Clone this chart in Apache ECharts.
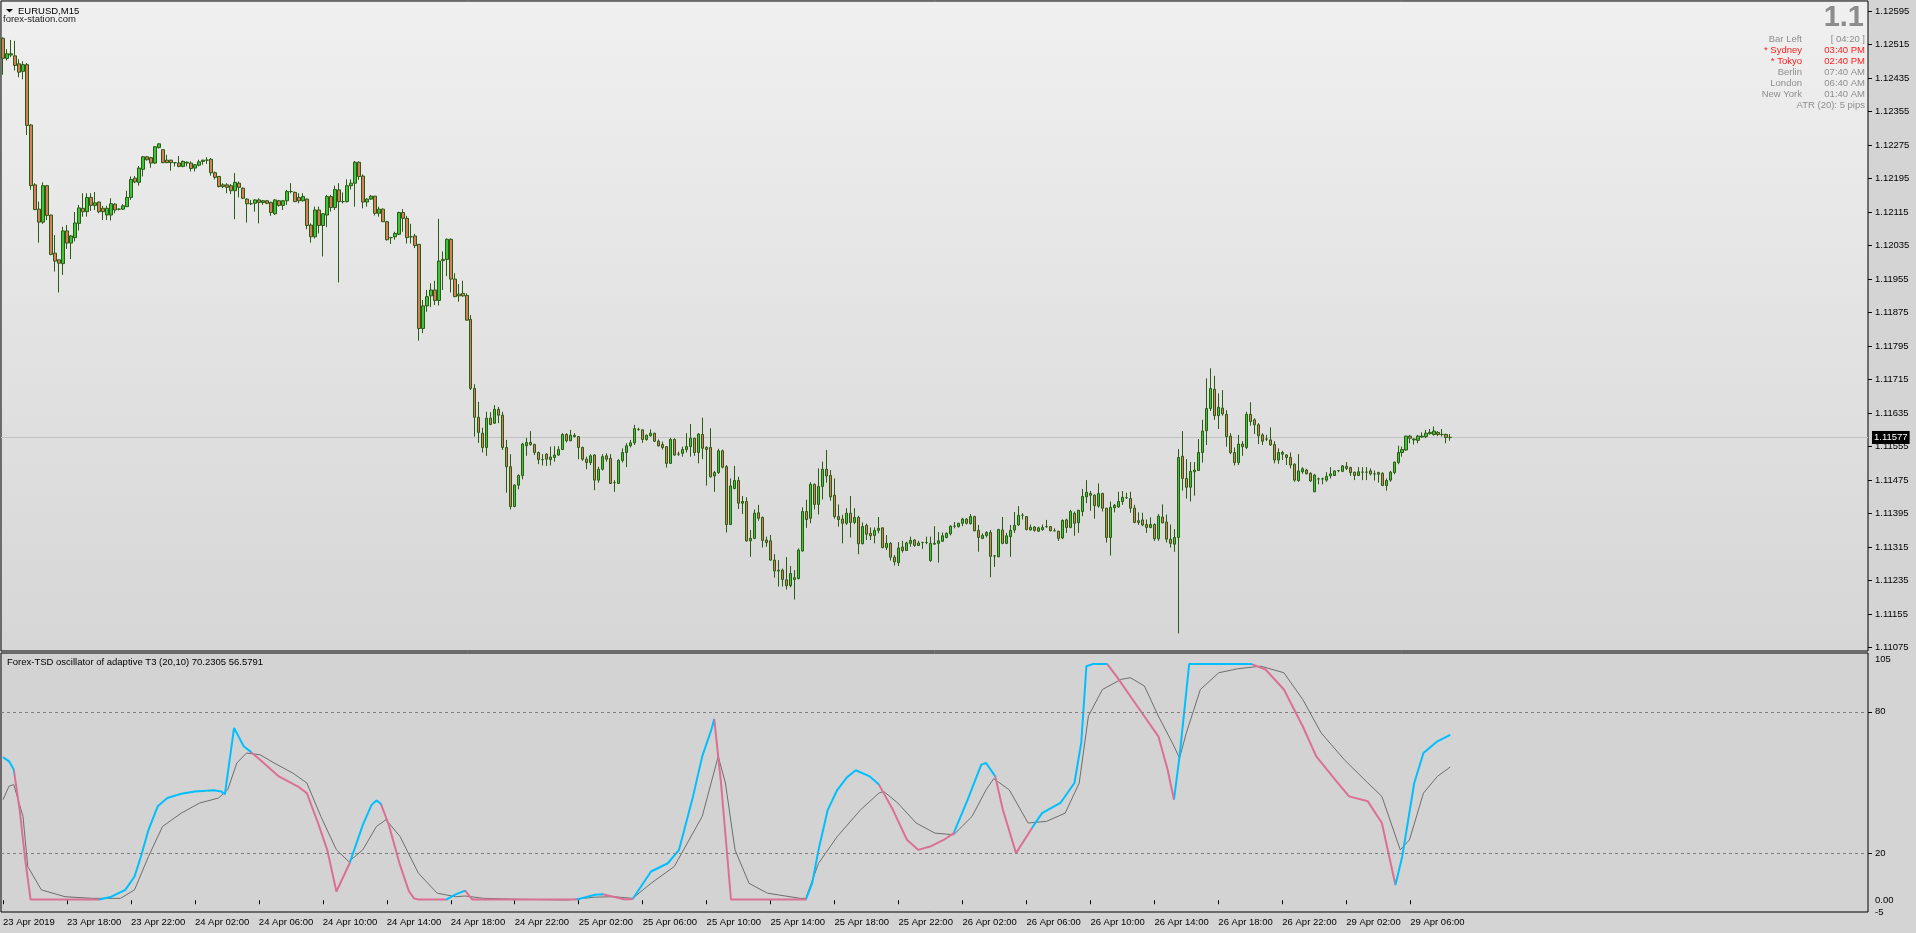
<!DOCTYPE html>
<html><head><meta charset="utf-8">
<script src="https://cdn.jsdelivr.net/npm/echarts@6/dist/echarts.min.js"></script>
<style>html,body{margin:0;padding:0;background:#d4d4d4;overflow:hidden}#c{width:1916px;height:933px}</style>
</head><body><div id="c"></div>
<script>
// ---------------- DATA ----------------
const symbolTitle = 'EURUSD,M15';
const siteTitle = 'forex-station.com';
const oscTitle = 'Forex-TSD oscillator of adaptive T3 (20,10) 70.2305 56.5791';
const lastPrice = 1.11577;

const open = [
1.1253,1.12482,1.1249,1.12488,1.12469,1.12451,1.12467,1.12323,1.1218,1.12122,
1.12091,1.12178,1.12108,1.12017,1.12001,1.11992,1.1207,1.12041,1.12054,1.12088,
1.12124,1.12116,1.1215,1.12131,1.12139,1.12124,1.12108,1.12108,1.12134,1.12122,
1.12122,1.12128,1.1215,1.12196,1.12186,1.12217,1.12247,1.12245,1.12232,1.12269,
1.12264,1.12239,1.12239,1.12233,1.12232,1.12224,1.12234,1.12232,1.1222,1.12227,
1.12236,1.12239,1.12241,1.12209,1.122,1.1218,1.1218,1.12178,1.12166,1.12184,
1.12172,1.12146,1.12135,1.12136,1.12144,1.12138,1.12142,1.12138,1.12111,1.12142,
1.12131,1.12142,1.12164,1.12162,1.1215,1.12142,1.12146,1.12084,1.12056,1.1212,
1.12083,1.12108,1.12152,1.12126,1.12168,1.1214,1.1214,1.12178,1.12184,1.12234,
1.12201,1.12139,1.12146,1.12153,1.12112,1.12122,1.12092,1.12054,1.12056,1.12062,
1.12114,1.121,1.12056,1.12058,1.12038,1.11837,1.11891,1.11915,1.11929,1.11904,
1.11999,1.12002,1.1205,1.11955,1.11919,1.11921,1.11916,1.11859,1.11694,1.11625,
1.11587,1.11553,1.11623,1.11611,1.11644,1.1163,1.11553,1.11507,1.11412,1.11463,
1.11486,1.11557,1.11565,1.1156,1.11541,1.11524,1.11537,1.11524,1.11529,1.11535,
1.11548,1.11584,1.11569,1.11579,1.11579,1.11553,1.11525,1.11517,1.11535,1.11475,
1.11501,1.11533,1.11527,1.11469,1.11467,1.11522,1.11541,1.11557,1.11564,1.11596,
1.11595,1.11572,1.11581,1.11587,1.11568,1.1156,1.11555,1.11515,1.11572,1.11537,
1.11539,1.11548,1.11555,1.11575,1.11541,1.11584,1.11553,1.11553,1.11485,1.11493,
1.11545,1.11507,1.11369,1.11455,1.11474,1.1142,1.11424,1.1133,1.11336,1.11397,
1.11386,1.11332,1.1133,1.11284,1.1126,1.1126,1.11237,1.11223,1.11238,1.1124,
1.11306,1.114,1.11384,1.11465,1.11417,1.1146,1.11501,1.11486,1.11439,1.11388,
1.11382,1.11372,1.11396,1.11374,1.11386,1.11323,1.11367,1.11348,1.11343,1.11355,
1.11361,1.11314,1.11324,1.11291,1.11278,1.11315,1.11307,1.11324,1.11332,1.11319,
1.11326,1.11326,1.11283,1.11322,1.11324,1.11329,1.11338,1.11347,1.11365,1.11364,
1.11372,1.11382,1.11371,1.11388,1.11355,1.11336,1.11343,1.1135,1.11294,1.11292,
1.11356,1.11324,1.1134,1.11356,1.11368,1.11391,1.11388,1.11356,1.11363,1.11353,
1.11357,1.11364,1.11364,1.11354,1.11353,1.11337,1.1138,1.11362,1.11396,1.11373,
1.114,1.11435,1.11443,1.11439,1.11413,1.11443,1.11408,1.11338,1.11409,1.11411,
1.11424,1.11433,1.11431,1.11408,1.11378,1.1138,1.11369,1.11362,1.11369,1.11335,
1.11387,1.11375,1.11334,1.11322,1.11338,1.11532,1.11479,1.11458,1.11495,1.11498,
1.11541,1.11593,1.11646,1.11692,1.11629,1.11647,1.11632,1.1158,1.11541,1.11517,
1.11561,1.11553,1.11632,1.11619,1.11607,1.11583,1.11573,1.11571,1.1156,1.11523,
1.11537,1.11535,1.11529,1.11513,1.11474,1.11495,1.11499,1.11491,1.11447,1.11478,
1.11478,1.11475,1.11485,1.11486,1.11498,1.11496,1.11508,1.11505,1.11494,1.11486,
1.11494,1.11494,1.11497,1.1149,1.11493,1.11491,1.11462,1.11475,1.11493,1.11517,
1.11541,1.11547,1.1158,1.11573,1.1157,1.11578,1.11579,1.11586,1.11584,1.11589,
1.11584,1.11584,1.11577];

const high = [
1.12532,1.12504,1.12526,1.12524,1.1248,1.12475,1.12471,1.12325,1.12184,1.1214,
1.12186,1.1218,1.12108,1.1206,1.12001,1.1208,1.12084,1.1206,1.12115,1.12132,
1.1216,1.1216,1.1216,1.12163,1.1214,1.1213,1.1213,1.12148,1.12136,1.12124,
1.12134,1.12166,1.122,1.12201,1.12225,1.12249,1.12249,1.12247,1.12273,1.12279,
1.12265,1.12252,1.1224,1.12234,1.12249,1.12238,1.12236,1.12236,1.1223,1.1224,
1.1224,1.12246,1.12244,1.12212,1.12201,1.12184,1.12184,1.12182,1.12208,1.12188,
1.12174,1.12148,1.12144,1.12146,1.12148,1.12144,1.12144,1.1214,1.12146,1.12144,
1.12144,1.12168,1.12184,1.12164,1.1216,1.1216,1.12147,1.12088,1.12128,1.12128,
1.12112,1.12156,1.12156,1.12178,1.12184,1.12162,1.12193,1.12193,1.12237,1.12236,
1.12205,1.12148,1.12156,1.12154,1.12128,1.12124,1.12094,1.12056,1.12068,1.12116,
1.12122,1.12106,1.12087,1.12063,1.12038,1.11905,1.11929,1.11945,1.11951,1.12099,
1.12021,1.12052,1.12052,1.11969,1.11943,1.11951,1.11921,1.11869,1.11704,1.11662,
1.116,1.11638,1.11637,1.11654,1.1165,1.11638,1.11571,1.11537,1.11465,1.11489,
1.11564,1.11576,1.11592,1.11562,1.11543,1.11537,1.11539,1.11555,1.11556,1.11556,
1.11587,1.11587,1.11595,1.11587,1.1158,1.11555,1.11531,1.11537,1.11537,1.11507,
1.11537,1.11539,1.11537,1.11475,1.11525,1.11551,1.11563,1.11571,1.11607,1.116,
1.11596,1.11584,1.11596,1.11588,1.11572,1.11567,1.11556,1.11576,1.11575,1.11543,
1.11555,1.11587,1.11609,1.11576,1.11587,1.11624,1.11556,1.11599,1.11497,1.1155,
1.11548,1.11511,1.11479,1.11509,1.11483,1.11437,1.11434,1.11356,1.11405,1.11416,
1.11388,1.1134,1.11344,1.11298,1.11284,1.11264,1.11291,1.1127,1.1126,1.11312,
1.1141,1.11428,1.1147,1.11467,1.11503,1.11519,1.11547,1.11499,1.11479,1.11417,
1.11392,1.11408,1.11437,1.11408,1.1139,1.11374,1.11371,1.11362,1.11362,1.11387,
1.11362,1.11344,1.11327,1.11296,1.11327,1.1133,1.11328,1.1134,1.11334,1.1133,
1.11328,1.1134,1.1134,1.11365,1.11351,1.1135,1.1135,1.11367,1.11375,1.11373,
1.11385,1.11384,1.11394,1.1139,1.11368,1.11348,1.11353,1.11356,1.11296,1.11359,
1.11387,1.11349,1.11368,1.11399,1.11413,1.11396,1.11389,1.11369,1.11365,1.11364,
1.11369,1.1138,1.11365,1.1136,1.11354,1.11381,1.11383,1.11404,1.114,1.11404,
1.11454,1.11475,1.11449,1.11441,1.11467,1.11445,1.11409,1.11424,1.11418,1.11447,
1.11449,1.11445,1.11447,1.11416,1.11398,1.11397,1.11381,1.11386,1.11372,1.11394,
1.11417,1.11393,1.11369,1.11358,1.11549,1.11592,1.11525,1.11518,1.11518,1.11573,
1.11619,1.11718,1.11742,1.11724,1.11682,1.1169,1.11642,1.11587,1.11553,1.11583,
1.11568,1.11638,1.11661,1.11623,1.11611,1.11587,1.11583,1.11601,1.11568,1.11551,
1.11545,1.11537,1.11541,1.11515,1.11537,1.11506,1.11502,1.11494,1.1149,1.11481,
1.11481,1.11494,1.11506,1.11498,1.11499,1.11511,1.11518,1.11507,1.11495,1.11506,
1.11506,1.11506,1.11503,1.11498,1.11495,1.11494,1.11479,1.11497,1.11519,1.11557,
1.11555,1.11581,1.11583,1.11575,1.11583,1.11589,1.11595,1.11597,1.11603,1.11592,
1.11597,1.11586,1.11585];

const low = [
1.12443,1.12477,1.12485,1.12453,1.12437,1.12432,1.12299,1.12168,1.1212,1.12042,
1.12087,1.12096,1.12012,1.11973,1.11923,1.11965,1.12027,1.12003,1.12045,1.12071,
1.12104,1.12104,1.12118,1.1212,1.12112,1.12096,1.12096,1.12095,1.12112,1.12119,
1.1212,1.12127,1.12144,1.12184,1.12178,1.122,1.12238,1.12221,1.1223,1.12267,
1.12232,1.12232,1.12214,1.12224,1.12222,1.12222,1.12224,1.12212,1.12212,1.12224,
1.12228,1.1223,1.12202,1.12193,1.12174,1.12172,1.1216,1.12158,1.12098,1.1215,
1.12146,1.1209,1.12132,1.12116,1.12088,1.12132,1.12134,1.12106,1.12108,1.12128,
1.1212,1.12132,1.1216,1.12139,1.12136,1.1214,1.12074,1.12042,1.12052,1.12064,
1.12009,1.12079,1.12116,1.1212,1.11947,1.12136,1.12138,1.12169,1.12128,1.12192,
1.12124,1.12128,1.12144,1.12107,1.12104,1.12091,1.12047,1.12039,1.12049,1.1206,
1.12068,1.1204,1.1204,1.12029,1.11808,1.11826,1.11877,1.11888,1.11893,1.11892,
1.11929,1.11962,1.11923,1.11912,1.11901,1.11913,1.11856,1.1169,1.11579,1.11564,
1.11541,1.11533,1.11606,1.11609,1.11611,1.11547,1.11445,1.11405,1.1141,1.11453,
1.11477,1.11533,1.11557,1.11535,1.11513,1.1151,1.11509,1.1151,1.11519,1.11533,
1.11547,1.11565,1.11568,1.11577,1.11525,1.11521,1.11501,1.11511,1.11451,1.11469,
1.11498,1.11519,1.11466,1.11447,1.11466,1.11517,1.11506,1.11553,1.11559,1.11593,
1.11564,1.11569,1.11579,1.11566,1.11555,1.11548,1.11505,1.11514,1.11533,1.11533,
1.11531,1.11541,1.11531,1.11533,1.11515,1.11525,1.11462,1.11481,1.11447,1.1149,
1.11503,1.1135,1.11368,1.11453,1.11406,1.11394,1.11328,1.11292,1.11334,1.11378,
1.11314,1.11316,1.11283,1.11242,1.11221,1.11221,1.11214,1.11219,1.1119,1.11238,
1.11304,1.11361,1.11372,1.11405,1.11393,1.11429,1.11469,1.11426,1.11383,1.11364,
1.11324,1.11368,1.11338,1.1137,1.11298,1.11322,1.11332,1.11332,1.11324,1.11348,
1.11312,1.11308,1.11283,1.11271,1.1127,1.11302,1.11306,1.11316,1.11316,1.11318,
1.11311,1.11322,1.1128,1.11321,1.11278,1.11328,1.11336,1.11343,1.1136,1.11362,
1.11365,1.11369,1.11369,1.11353,1.11304,1.11334,1.11338,1.11243,1.11268,1.11291,
1.11322,1.11322,1.11292,1.11349,1.11366,1.11381,1.11355,1.11355,1.11352,1.11352,
1.11354,1.11361,1.11353,1.11353,1.1133,1.11334,1.11349,1.1136,1.11342,1.11349,
1.11389,1.1142,1.11402,1.11383,1.11409,1.114,1.11326,1.11295,1.11398,1.11409,
1.11416,1.1143,1.11397,1.11372,1.11368,1.11365,1.11349,1.1136,1.1133,1.1133,
1.11372,1.11326,1.11314,1.11304,1.11109,1.1145,1.11431,1.11424,1.11438,1.11497,
1.11517,1.11559,1.1164,1.11619,1.11597,1.11629,1.11555,1.11537,1.1151,1.11511,
1.11533,1.11549,1.11605,1.11585,1.11561,1.11559,1.11568,1.11557,1.11515,1.11514,
1.11523,1.11511,1.11503,1.11471,1.11471,1.1149,1.11489,1.11471,1.11447,1.11465,
1.11465,1.11471,1.11479,1.11485,1.11494,1.11494,1.11499,1.11485,1.11475,1.11485,
1.11475,1.11475,1.11486,1.11474,1.11469,1.11461,1.1145,1.11471,1.11489,1.11513,
1.11531,1.11545,1.11563,1.1156,1.11563,1.11576,1.11575,1.11584,1.11581,1.1158,
1.11579,1.11563,1.11569];

const close = [
1.12482,1.12493,1.12493,1.12465,1.12449,1.12467,1.12322,1.12178,1.12121,1.12091,
1.12178,1.12107,1.12014,1.11998,1.11993,1.1207,1.12041,1.12058,1.12089,1.12125,
1.12116,1.1215,1.12131,1.12137,1.12116,1.12116,1.12124,1.12135,1.1212,1.12122,
1.1213,1.1215,1.12193,1.12187,1.1222,1.12247,1.1224,1.12232,1.12271,1.12278,
1.12233,1.12233,1.12233,1.12233,1.12224,1.12236,1.12232,1.12219,1.12228,1.12235,
1.12239,1.12239,1.12209,1.12198,1.12176,1.12176,1.12174,1.12166,1.12186,1.12174,
1.12148,1.12135,1.12135,1.12144,1.12138,1.12142,1.12136,1.12114,1.12144,1.12131,
1.12142,1.12164,1.12164,1.1214,1.12142,1.12152,1.12083,1.12056,1.1212,1.12083,
1.12111,1.12152,1.12126,1.12169,1.1214,1.1214,1.12178,1.12184,1.12234,1.122,
1.12139,1.12146,1.12153,1.12112,1.12122,1.12092,1.12049,1.12054,1.12064,1.12114,
1.121,1.12054,1.12056,1.12035,1.11837,1.11891,1.11913,1.11929,1.11904,1.11998,
1.12002,1.1205,1.11955,1.11913,1.11915,1.11915,1.11857,1.11694,1.11625,1.11589,
1.11553,1.11623,1.11608,1.11644,1.1163,1.11553,1.11507,1.11412,1.11463,1.11486,
1.11561,1.11565,1.1156,1.11541,1.11524,1.11524,1.11525,1.1153,1.11535,1.11548,
1.11584,1.11569,1.11582,1.11582,1.11553,1.11525,1.11517,1.11533,1.11475,1.11501,
1.11531,1.11525,1.11467,1.11469,1.11522,1.11541,1.11557,1.11564,1.11598,1.11596,
1.11572,1.11582,1.11587,1.11568,1.11557,1.11553,1.11515,1.11572,1.11535,1.11537,
1.11548,1.11555,1.11575,1.11541,1.11585,1.11551,1.11548,1.11483,1.11493,1.11545,
1.11506,1.11369,1.11461,1.11474,1.1142,1.11424,1.1133,1.11336,1.11396,1.11384,
1.11331,1.11326,1.11284,1.11258,1.11258,1.11238,1.11223,1.11252,1.11242,1.11308,
1.114,1.11381,1.11465,1.11417,1.1146,1.11501,1.11485,1.11435,1.11388,1.11381,
1.11372,1.11396,1.11374,1.11386,1.11323,1.11364,1.11346,1.11342,1.11355,1.1136,
1.11314,1.11324,1.11291,1.1128,1.11313,1.11307,1.11325,1.11331,1.11319,1.11325,
1.11326,1.11326,1.11324,1.11324,1.1133,1.11342,1.11348,1.11365,1.11365,1.11372,
1.11382,1.11372,1.11388,1.11354,1.11338,1.11343,1.1135,1.11293,1.11294,1.11357,
1.11324,1.11342,1.11355,1.11367,1.11391,1.11391,1.11357,1.11362,1.11355,1.11361,
1.11362,1.11364,1.11354,1.11354,1.11336,1.11379,1.11362,1.114,1.11372,1.11403,
1.11436,1.11446,1.11439,1.11414,1.11443,1.11408,1.11338,1.1141,1.11415,1.11424,
1.11434,1.11433,1.11408,1.11374,1.11374,1.11368,1.11362,1.11369,1.11335,1.11389,
1.11373,1.11334,1.11324,1.11338,1.11529,1.11479,1.11458,1.11496,1.11499,1.11541,
1.11592,1.11646,1.11694,1.11629,1.11649,1.11633,1.11579,1.11541,1.11517,1.11561,
1.11555,1.11632,1.11615,1.11607,1.11581,1.11568,1.11573,1.11559,1.11523,1.11541,
1.11541,1.11529,1.11511,1.11475,1.11497,1.11502,1.1149,1.11473,1.11487,1.11478,
1.11478,1.11484,1.1149,1.11497,1.11498,1.11509,1.11503,1.11493,1.11486,1.11495,
1.11494,1.11494,1.1149,1.1149,1.11489,1.11462,1.11474,1.11494,1.11518,1.11541,
1.11548,1.1158,1.11575,1.11571,1.1158,1.1158,1.11587,1.11589,1.11592,1.11584,
1.11584,1.11577,1.11577];

const priceTicks = [1.11075,1.11155,1.11235,1.11315,1.11395,1.11475,1.11555,1.11635,1.11715,1.11795,
  1.11875,1.11955,1.12035,1.12115,1.12195,1.12275,1.12355,1.12435,1.12515,1.12595];

const timeLabels = ['23 Apr 2019','23 Apr 18:00','23 Apr 22:00','24 Apr 02:00','24 Apr 06:00','24 Apr 10:00',
  '24 Apr 14:00','24 Apr 18:00','24 Apr 22:00','25 Apr 02:00','25 Apr 06:00','25 Apr 10:00','25 Apr 14:00',
  '25 Apr 18:00','25 Apr 22:00','26 Apr 02:00','26 Apr 06:00','26 Apr 10:00','26 Apr 14:00','26 Apr 18:00',
  '26 Apr 22:00','29 Apr 02:00','29 Apr 06:00'];

// oscillator main line (bar position, value, 1 = falling/pink segment)
const oscBar = [0,1.5,2.7,4.2,5.5,6.9,24.1,27.1,30.6,32.9,34.5,36.4,38.7,41.1,44.6,48,52.7,54.6,55.5,57.8,
  60.2,62,64.3,69,73.7,76,78.8,81.1,83.4,86.7,90,92.2,93.4,94.5,96.5,99.3,101.5,102.8,103.9,110.9,
  113.2,115.6,117.4,143.5,148.1,150,155.6,157.5,162.1,166.3,169.1,172.6,174.9,177.2,177.9,179.6,182.1,200.8,
  202.4,204,206.3,208.7,211,213.3,216.8,219.1,222.6,226.1,228.9,231.9,235.4,237.8,241.3,244.7,245.9,248.2,
  250.1,253.4,256.4,257.5,259.9,264.5,268,269.7,271,272.7,276.2,278.5,284.3,289,291.3,292.9,294.3,296.7,
  312.3,315.8,320.4,325.1,328.5,333.2,336.7,341.4,344.9,348.3,350,353,355.3,358.8,362];
const oscMain = [60.8,59.0,55.5,38.0,18.0,0.3,0.3,1.5,4.4,10.1,18.6,29.9,39.9,43.4,45.2,46.2,46.7,46.2,45.0,73.2,
  65.4,63.0,59.7,52.6,48.4,45.5,32.8,21.4,3.7,15.7,32.0,40.5,42.4,41.0,32.0,15.0,4.0,0.8,0.3,0.3,
  2.5,4.1,0.3,0.3,2.3,2.5,0.3,0.5,12.2,15.7,21.4,44.1,61.1,72.5,77.0,49.8,0.3,0.3,
  7.2,21.4,38.4,46.9,52.0,55.2,52.6,49.1,38.4,25.7,21.4,22.8,25.7,28.5,42.7,57.6,58.3,52.6,
  38.4,20.0,28.0,31.0,37.0,41.3,49.8,66.8,99.4,100.3,100.3,95.2,81.0,69.6,55.5,42.7,61.1,100.3,
  100.3,98.0,89.5,73.9,61.1,51.2,44.1,42.0,32.8,6.5,18.6,49.8,62.5,67.5,70.2305];
const oscPink = [0,0,0,1,1,1,1,0,0,0,0,0,0,0,0,0,0,0,0,0,
  0,0,1,1,1,1,1,1,1,1,0,0,0,0,1,1,1,1,1,1,
  0,0,1,1,0,0,1,1,0,0,0,0,0,0,0,1,1,1,
  0,0,0,0,0,0,0,0,1,1,1,1,1,1,0,0,0,0,
  1,1,1,1,0,0,0,0,0,0,0,1,1,1,1,1,0,0,
  0,1,1,1,1,1,1,1,1,1,0,0,0,0,0];

// oscillator signal line
const sigBar = [0,1.5,2.7,5,6.2,9.6,15.5,22.4,29.4,32.9,36.4,39.9,44.6,49.2,53.9,56.2,58.5,60.9,64.3,67.8,
  72.5,76,79.5,83.4,86.5,90,93.4,95.8,99.3,103.9,108.6,113.2,115.6,120.2,129.5,141.2,148.1,152.8,157.5,162.1,
  167.9,174.9,178.9,180.7,183.1,186.6,191.2,199.4,200.8,204,208.7,214.5,219.1,220.3,223.8,228.4,233.1,237.8,242.4,245.9,
  247.8,251.7,256.4,261,265.7,269.2,271.5,275,279.7,282,285.5,289,292.5,294.3,296,299.5,304.1,308.8,314.6,320.4,
  325.1,329.7,335.5,341.4,344.9,349.5,351.8,355.3,358.8,362];
const sigVal = [42.7,48.4,49.1,35.6,14.3,4.4,1.5,0.8,0.8,4.4,18.6,31.3,37.0,41.3,43.4,46.9,58.3,62.5,61.8,58.3,
  54.0,49.8,35.6,21.4,16.4,21.4,31.3,34.2,27.1,11.5,3.0,1.5,1.8,0.8,0.4,0.1,1.3,1.5,0.8,7.2,
  14.3,35.6,61.1,49.8,21.4,7.2,3.0,0.8,0.8,15.7,27.1,38.4,45.5,46.2,41.3,32.8,28.5,27.8,35.6,46.9,
  51.6,46.9,32.8,33.5,37.0,49.8,78.2,89.5,93.8,94.5,91.0,78.2,66.8,60.4,71.1,89.5,96.6,98.3,99.4,96.6,
  85.3,71.1,59.7,49.8,44.1,21.4,25.6,45.5,52.6,56.5791];

const oscLevels = [80, 20];
const oscTicks = [105, 80, 20, 0, -5];

const infoBig = '1.1';
const infoLabels = ['Bar Left', '* Sydney', '* Tokyo', 'Berlin', 'London', 'New York'];
const infoValues = ['[ 04:20 ]', '03:40 PM', '02:40 PM', '07:40 AM', '06:40 AM', '01:40 AM'];
const infoRed = [false, true, true, false, false, false];
const infoAtr = 'ATR (20): 5 pips';

// ---------------- BUILD ----------------
const N_SLOTS = 467;
const MON = ['Jan','Feb','Mar','Apr','May','Jun','Jul','Aug','Sep','Oct','Nov','Dec'];
const cats = [];
let t = Date.UTC(2019, 3, 23, 14, 0);
for (let i = 0; i < N_SLOTS; i++) {
  const d = new Date(t);
  cats.push(d.getUTCDate() + ' ' + MON[d.getUTCMonth()] + ' ' + String(d.getUTCHours()).padStart(2,'0') + ':' + String(d.getUTCMinutes()).padStart(2,'0'));
  t += 15 * 60000;
  if (new Date(t).getUTCDay() === 6) t += 2 * 86400000;
}
const LAST = open.length - 1;
const candles = open.map((o, i) => [o, close[i], low[i], high[i]]);
const mainData = oscBar.map((b, i) => [b, oscMain[i]]);
const sigData = sigBar.map((b, i) => [b, sigVal[i]]);
const pinkPieces = [];
for (let i = 1; i < oscBar.length; i++) {
  if (!oscPink[i]) continue;
  const last = pinkPieces[pinkPieces.length - 1];
  if (last && last.lte === oscBar[i - 1]) last.lte = oscBar[i];
  else pinkPieces.push({ gte: oscBar[i - 1], lte: oscBar[i] });
}
const CYAN = '#00bfff', PINK = '#db7093';
const FONT = '"Liberation Sans", Arial, sans-serif';
pinkPieces.forEach(p => p.color = PINK);

const isTick = (idx) => idx % 16 === 0 && idx <= LAST;

const chart = echarts.init(document.getElementById('c'), null, { width: 1916, height: 933 });
chart.setOption({
  animation: false,
  backgroundColor: '#d4d4d4',
  textStyle: { fontFamily: FONT },
  grid: [
    { left: 1, right: 48, top: 1, height: 650, show: true, borderColor: '#000', borderWidth: 1,
      backgroundColor: { type: 'linear', x: 0, y: 0, x2: 0, y2: 1, colorStops: [{ offset: 0, color: '#f0f0f0' }, { offset: 1, color: '#d6d6d6' }] } },
    { left: 1, right: 48, top: 653, height: 259, show: true, borderColor: '#000', borderWidth: 1, backgroundColor: '#d3d3d3' }
  ],
  xAxis: [
    { type: 'category', gridIndex: 0, data: cats, boundaryGap: true, show: false },
    { type: 'category', gridIndex: 1, data: cats, boundaryGap: true,
      axisLine: { show: false },
      axisTick: { show: true, alignWithLabel: true, interval: (i) => isTick(i), length: 4, lineStyle: { color: '#000' } },
      axisLabel: { interval: (i) => isTick(i), formatter: (v, i) => timeLabels[i / 16] || '', align: 'left',
        margin: 5, fontSize: 9.5, color: '#000', fontFamily: FONT },
      splitLine: { show: false } },
    { type: 'value', gridIndex: 1, min: -0.5, max: N_SLOTS - 0.5, show: false }
  ],
  yAxis: [
    { type: 'value', gridIndex: 0, position: 'right', min: 1.11067, max: 1.12619, scale: true,
      axisLine: { show: false, onZero: false },
      axisTick: { show: true, customValues: priceTicks, length: 4, lineStyle: { color: '#000' } },
      axisLabel: { customValues: priceTicks, formatter: (v) => v.toFixed(5), margin: 7, fontSize: 9.5, color: '#000', fontFamily: FONT },
      splitLine: { show: false } },
    { type: 'value', gridIndex: 1, position: 'right', min: -5, max: 105,
      axisLine: { show: false, onZero: false },
      axisTick: { show: true, customValues: oscLevels, length: 4, lineStyle: { color: '#000' } },
      axisLabel: { customValues: oscTicks, margin: 7, fontSize: 9.5, color: '#000', fontFamily: FONT,
        formatter: (v) => v === 105 ? '{t|105}' : v === 0 ? '0.00' : String(v),
        rich: { t: { padding: [12, 0, 0, 0], fontSize: 9.5, fontFamily: FONT } } },
      splitLine: { show: false } }
  ],
  visualMap: [{
    type: 'piecewise', show: false, seriesIndex: 2, dimension: 0,
    pieces: pinkPieces, outOfRange: { color: CYAN }
  }],
  series: [
    { type: 'candlestick', xAxisIndex: 0, yAxisIndex: 0, data: candles, barWidth: 3,
      itemStyle: { color: '#3cc43c', color0: '#dc7a5e', borderColor: '#2a5c12', borderColor0: '#2a5c12', borderWidth: 1 },
      emphasis: { disabled: true }, silent: true, z: 3,
      markLine: { silent: true, symbol: ['none', 'none'], animation: false, precision: 5, z: 1,
        lineStyle: { color: '#c2c2c2', type: 'solid', width: 1 },
        label: { position: 'end', formatter: lastPrice.toFixed(5), backgroundColor: '#000', color: '#fff',
          padding: [2, 2, 1, 2], fontSize: 9.5, fontFamily: FONT, distance: 4 },
        data: [{ yAxis: lastPrice }] } },
    { type: 'line', xAxisIndex: 2, yAxisIndex: 1, data: sigData, showSymbol: false, silent: true,
      lineStyle: { color: '#6e6e6e', width: 1 }, z: 3,
      markLine: { silent: true, symbol: ['none', 'none'], animation: false, label: { show: false },
        lineStyle: { color: '#808080', type: [3, 3], width: 1 },
        data: oscLevels.map(v => ({ yAxis: v })) } },
    { type: 'line', xAxisIndex: 2, yAxisIndex: 1, data: mainData, showSymbol: false, silent: true,
      lineStyle: { width: 2 }, z: 4 }
  ],
  graphic: [
    { type: 'polygon', shape: { points: [[6, 9], [13, 9], [9.5, 12.5]] }, style: { fill: '#000' } },
    { type: 'text', x: 18, y: 11, style: { text: symbolTitle, fill: '#000', font: '9.5px ' + FONT, textVerticalAlign: 'middle' } },
    { type: 'text', x: 3, y: 19, style: { text: siteTitle, fill: '#1a1a1a', font: '9.5px ' + FONT, textVerticalAlign: 'middle' } },
    { type: 'text', x: 7, y: 662, style: { text: oscTitle, fill: '#000', font: '9.5px ' + FONT, textVerticalAlign: 'middle' } },
    { type: 'text', x: 1864, y: 18, style: { text: infoBig, fill: '#8c8c8c', font: 'bold 29px ' + FONT, textAlign: 'right', textVerticalAlign: 'middle' } },
    ...infoLabels.map((s, i) => ({ type: 'text', x: 1802, y: 39 + i * 11, style: { text: s, fill: infoRed[i] ? '#ff1a1a' : '#8e8e8e', font: '9.5px ' + FONT, textAlign: 'right', textVerticalAlign: 'middle' } })),
    ...infoValues.map((s, i) => ({ type: 'text', x: 1865, y: 39 + i * 11, style: { text: s, fill: infoRed[i] ? '#ff1a1a' : '#8e8e8e', font: '9.5px ' + FONT, textAlign: 'right', textVerticalAlign: 'middle' } })),
    { type: 'text', x: 1865, y: 105, style: { text: infoAtr, fill: '#8e8e8e', font: '9.5px ' + FONT, textAlign: 'right', textVerticalAlign: 'middle' } }
  ]
});
</script>
</body></html>
